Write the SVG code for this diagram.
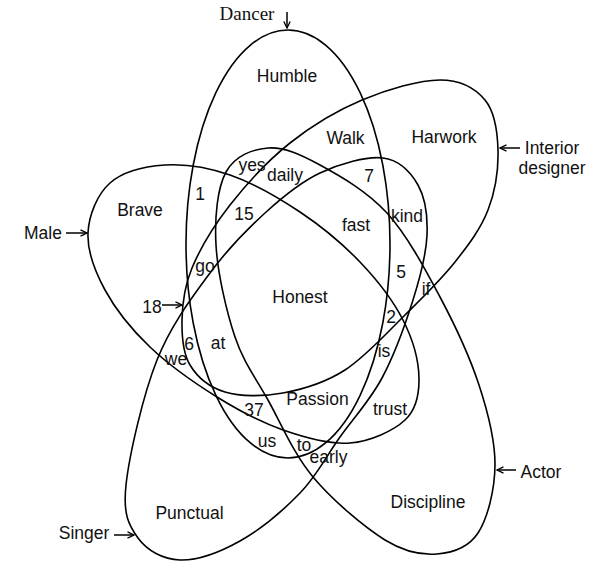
<svg xmlns="http://www.w3.org/2000/svg" width="601" height="564" viewBox="0 0 601 564">
<style>
.set{fill:none;stroke:#000;stroke-width:1.6}
.lbl{font-family:"Liberation Sans",Arial,sans-serif;font-size:17.5px;fill:#111;text-anchor:middle}
.ser{font-family:"Liberation Serif","Times New Roman",serif;font-size:19px;fill:#111;text-anchor:middle}
.arr{stroke:#000;stroke-width:1.5;fill:none;marker-end:url(#ah)}
</style>
<defs>
<marker id="ah" markerUnits="userSpaceOnUse" markerWidth="8" markerHeight="8" refX="7" refY="4" orient="auto">
<path d="M0.5,0.8 L7,4 L0.5,7.2" fill="none" stroke="#000" stroke-width="1.3"/>
</marker>
</defs>
<rect width="601" height="564" fill="#fff"/>
<g id="dancer">
<ellipse class="set" cx="288" cy="244" rx="102" ry="214"/>
<text class="ser" x="247" y="20">Dancer</text>
</g>
<g id="male">
<path class="set" d="M88,233 C88.8,215.2 97.2,194.3 110,183 C122.8,171.7 145,166.3 165,165 C185,163.7 207.5,167.2 230,175 C252.5,182.8 278.3,197.5 300,212 C321.7,226.5 342.8,244 360,262 C377.2,280 393.2,300.7 403,320 C412.8,339.3 418.7,361.3 419,378 C419.3,394.7 416.5,409.2 405,420 C393.5,430.8 370.3,441.3 350,443 C329.7,444.7 305.2,437.7 283,430 C260.8,422.3 239.2,410.8 217,397 C194.8,383.2 168.7,364.8 150,347 C131.3,329.2 115.3,309 105,290 C94.7,271 87.2,250.8 88,233 Z"/>
<text class="lbl" x="43" y="239">Male</text>
</g>
<g id="interior-designer">
<path class="set" d="M498,150 C498.5,168.3 495.2,191.3 488,210 C480.8,228.7 468.8,244.5 455,262 C441.2,279.5 423.3,297 405,315 C386.7,333 365.3,357 345,370 C324.7,383 303,389.3 283,393 C263,396.7 240.5,396.7 225,392 C209.5,387.3 197.2,377 190,365 C182.8,353 181.7,336.2 182,320 C182.3,303.8 184,287.2 192,268 C200,248.8 213.7,225.8 230,205 C246.3,184.2 268,160.5 290,143 C312,125.5 337,110.5 362,100 C387,89.5 419.5,80 440,80 C460.5,80 475.3,88.3 485,100 C494.7,111.7 497.5,131.7 498,150 Z"/>
<text class="lbl" x="552" y="154">Interior</text>
<text class="lbl" x="552" y="174">designer</text>
</g>
<g id="actor">
<path class="set" d="M268,148 C283.7,146.8 300.2,154.2 320,165 C339.8,175.8 367,191 387,213 C407,235 424.7,268.3 440,297 C455.3,325.7 469.8,357 479,385 C488.2,413 495.2,440.3 495,465 C494.8,489.7 487.7,518.2 478,533 C468.3,547.8 452.5,552.8 437,554 C421.5,555.2 405.7,552.8 385,540 C364.3,527.2 332.5,500.3 313,477 C293.5,453.7 281,423.3 268,400 C255,376.7 243.7,362.8 235,337 C226.3,311.2 217.5,272.5 216,245 C214.5,217.5 217.3,188.2 226,172 C234.7,155.8 252.3,149.2 268,148 Z"/>
<text class="lbl" x="541" y="478">Actor</text>
</g>
<g id="singer">
<path class="set" d="M383,158 C399.3,160 410.7,172.2 418,185 C425.3,197.8 427.8,215.8 427,235 C426.2,254.2 420.5,276.2 413,300 C405.5,323.8 394.2,355.2 382,378 C369.8,400.8 353.7,417.8 340,437 C326.3,456.2 316.7,475.7 300,493 C283.3,510.3 260,529.8 240,541 C220,552.2 197,560.5 180,560 C163,559.5 147,550.5 138,538 C129,525.5 122.8,514.7 126,485 C129.2,455.3 143,395.3 157,360 C171,324.7 192,297.5 210,273 C228,248.5 246.7,229.7 265,213 C283.3,196.3 300.3,182.2 320,173 C339.7,163.8 366.7,156 383,158 Z"/>
<text class="lbl" x="84" y="539">Singer</text>
</g>
<g id="connectors">
<line class="arr" x1="287" y1="12" x2="287" y2="28"/>
<line class="arr" x1="66" y1="233" x2="87" y2="233"/>
<line class="arr" x1="520" y1="148" x2="500" y2="148"/>
<line class="arr" x1="516" y1="470" x2="497" y2="470"/>
<line class="arr" x1="114" y1="535" x2="134" y2="535"/>
<line class="arr" x1="162" y1="305" x2="182" y2="305"/>
</g>
<g id="region-labels">
<text class="lbl" x="287" y="82">Humble</text>
<text class="lbl" x="345.5" y="144">Walk</text>
<text class="lbl" x="444" y="143">Harwork</text>
<text class="lbl" x="140" y="216">Brave</text>
<text class="lbl" x="200" y="200">1</text>
<text class="lbl" x="252" y="171">yes</text>
<text class="lbl" x="285" y="181">daily</text>
<text class="lbl" x="244" y="220">15</text>
<text class="lbl" x="369" y="182">7</text>
<text class="lbl" x="407" y="222">kind</text>
<text class="lbl" x="356" y="231">fast</text>
<text class="lbl" x="205" y="272">go</text>
<text class="lbl" x="401" y="278">5</text>
<text class="lbl" x="426" y="295">if</text>
<text class="lbl" x="300" y="303">Honest</text>
<text class="lbl" x="152" y="313">18</text>
<text class="lbl" x="391" y="323">2</text>
<text class="lbl" x="189" y="350">6</text>
<text class="lbl" x="218" y="349">at</text>
<text class="lbl" x="176" y="365">we</text>
<text class="lbl" x="384" y="357">is</text>
<text class="lbl" x="317.5" y="405">Passion</text>
<text class="lbl" x="254" y="416">37</text>
<text class="lbl" x="390" y="415">trust</text>
<text class="lbl" x="267" y="447">us</text>
<text class="lbl" x="304" y="451">to</text>
<text class="lbl" x="328.5" y="463">early</text>
<text class="lbl" x="428" y="508">Discipline</text>
<text class="lbl" x="189.5" y="519">Punctual</text>
</g>
</svg>
